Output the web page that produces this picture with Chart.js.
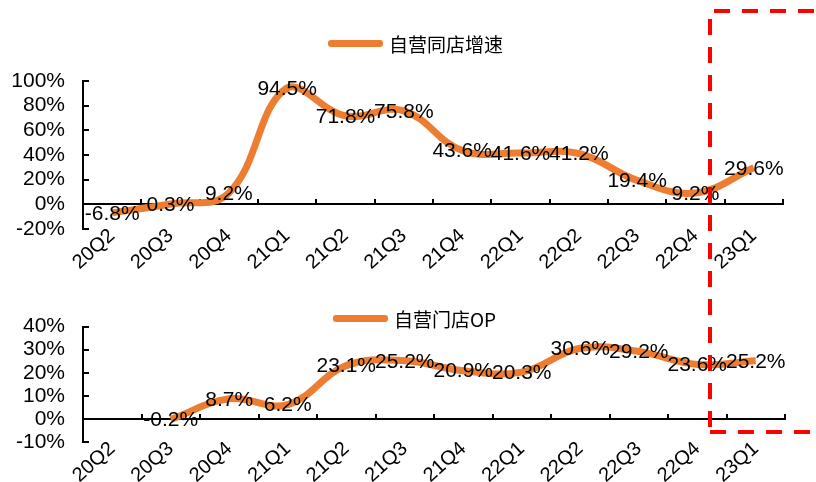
<!DOCTYPE html>
<html>
<head>
<meta charset="utf-8">
<script src="https://cdn.jsdelivr.net/npm/chart.js@4.4.0/dist/chart.umd.min.js"></script>
<style>
  body { margin: 0; width: 816px; height: 482px; position: relative; background: #fff; overflow: hidden; }
  canvas { position: absolute; left: 0; }
  #growth-chart { top: 0; }
  #op-chart { top: 290px; }
  #overlay { top: 0; pointer-events: none; }
  .chart-legend { position: absolute; display: flex; align-items: center; font-family: "Noto Sans CJK SC", "Liberation Sans", sans-serif; font-size: 19px; color: #000; }
  .legend-color { width: 55px; height: 7px; border-radius: 3px; margin-right: 6px; }
</style>
</head>
<body>
<canvas id="growth-chart" width="816" height="270"></canvas>
<canvas id="op-chart" width="816" height="192"></canvas>
<canvas id="overlay" width="816" height="482"></canvas>
<script>
// dados
const quarters = ['20Q2', '20Q3', '20Q4', '21Q1', '21Q2', '21Q3', '21Q4', '22Q1', '22Q2', '22Q3', '22Q4', '23Q1'];
const sameStoreGrowth = [-6.8, 0.3, 9.2, 94.5, 71.8, 75.8, 43.6, 41.6, 41.2, 19.4, 9.2, 29.6];
const storeOpMargin = [null, -0.2, 8.7, 6.2, 23.1, 25.2, 20.9, 20.3, 30.6, 29.2, 23.6, 25.2];
const growthTicks = { min: -20, max: 100, step: 20 };
const opTicks = { min: -10, max: 40, step: 10 };

const lineColor = '#ED7D31';
const fontFamily = '"Liberation Sans", Arial, sans-serif';

Chart.defaults.font.family = fontFamily;
Chart.defaults.color = '#000';

// rótulos de valor no centro de cada ponto
const pointLabels = {
  id: 'pointLabels',
  afterDatasetsDraw(chart) {
    const ctx = chart.ctx;
    const meta = chart.getDatasetMeta(0);
    const values = chart.data.datasets[0].data;
    ctx.save();
    ctx.font = '21px ' + fontFamily;
    ctx.fillStyle = '#000';
    ctx.textAlign = 'center';
    ctx.textBaseline = 'middle';
    meta.data.forEach((pt, i) => {
      if (values[i] == null) return;
      ctx.fillText(values[i].toFixed(1) + '%', pt.x, pt.y + 1);
    });
    ctx.restore();
  }
};

function makeChart(id, label, values, range, pad) {
  const ctx = document.getElementById(id).getContext('2d');
  return new Chart(ctx, {
    type: 'line',
    data: {
      labels: quarters,
      datasets: [{
        label: label,
        data: values,
        borderColor: lineColor,
        backgroundColor: lineColor,
        borderWidth: 7,
        tension: 0.4,
        pointRadius: 0,
        spanGaps: false
      }]
    },
    options: {
      responsive: false,
      animation: false,
      layout: { padding: pad },
      plugins: { legend: { display: false }, tooltip: { enabled: false } },
      scales: {
        x: {
          offset: true,
          grid: { display: false, drawTicks: false },
          border: { display: false },
          ticks: { font: { size: 20 }, minRotation: 42, maxRotation: 42, padding: -5, autoSkip: false },
          afterFit: s => { s.height = pad.xHeight; }
        },
        x2: {
          type: 'category',
          labels: quarters,
          position: { y: 0 },
          offset: true,
          grid: { display: true, offset: true, drawOnChartArea: false, drawTicks: true, tickLength: -6, color: '#000', lineWidth: 2 },
          border: { display: true, color: '#000', width: 2 },
          ticks: { display: false },
          afterFit: s => { s.height = 0; }
        },
        y: {
          min: range.min,
          max: range.max,
          grid: { drawOnChartArea: false, drawTicks: true, tickLength: -6, color: '#000', lineWidth: 2 },
          border: { display: true, color: '#000', width: 2 },
          ticks: { stepSize: range.step, autoSkip: false, font: { size: 21 }, padding: 24, callback: v => v + '%' },
          afterFit: s => { s.width = 83; }
        }
      }
    },
    plugins: [pointLabels]
  });
}

makeChart('growth-chart', '自营同店增速', sameStoreGrowth, growthTicks, { top: 81, left: 0, right: 33, bottom: 0, xHeight: 41 });
makeChart('op-chart', '自营门店OP', storeOpMargin, opTicks, { top: 31, left: 0, right: 31, bottom: 0, xHeight: 40 });

// legenda personalizada
function createCustomLegend(text, left, top) {
  const legendItem = document.createElement('div');
  legendItem.className = 'chart-legend';
  legendItem.style.left = left + 'px';
  legendItem.style.top = top + 'px';
  const colorBox = document.createElement('div');
  colorBox.className = 'legend-color';
  colorBox.style.backgroundColor = lineColor;
  const label = document.createElement('span');
  label.textContent = text;
  legendItem.appendChild(colorBox);
  legendItem.appendChild(label);
  document.body.appendChild(legendItem);
}
createCustomLegend('自营同店增速', 328, 30);
createCustomLegend('自营门店OP', 333, 305);

// moldura tracejada vermelha
const o = document.getElementById('overlay').getContext('2d');
o.strokeStyle = '#ff0000';
o.lineWidth = 4;
o.setLineDash([16, 12]);
o.beginPath(); o.moveTo(714, 11); o.lineTo(816, 11); o.stroke();
o.beginPath(); o.moveTo(710, 19); o.lineTo(710, 430); o.stroke();
o.beginPath(); o.moveTo(710, 432); o.lineTo(816, 432); o.stroke();
</script>
</body>
</html>
